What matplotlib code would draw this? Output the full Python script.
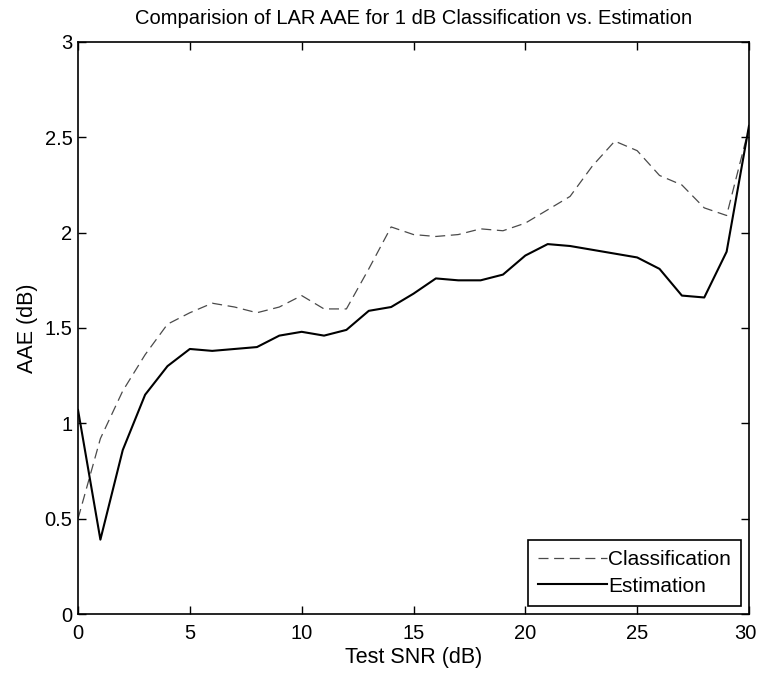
import numpy as np
import matplotlib
matplotlib.use('Agg')
import matplotlib.pyplot as plt
import matplotlib.transforms as mtransforms

plt.rcParams['font.family'] = ['Liberation Sans', 'DejaVu Sans']

# Test SNR (dB)
snr = list(range(0, 31))

# LAR AAE (dB)
classification = [0.50, 0.92, 1.17, 1.36, 1.52, 1.58, 1.63, 1.61, 1.58, 1.61,
                  1.67, 1.60, 1.60, 1.81, 2.03, 1.99, 1.98, 1.99, 2.02, 2.01,
                  2.05, 2.12, 2.19, 2.35, 2.48, 2.43, 2.30, 2.25, 2.13, 2.09,
                  2.55]
estimation = [1.07, 0.39, 0.86, 1.15, 1.30, 1.39, 1.38, 1.39, 1.40, 1.46,
              1.48, 1.46, 1.49, 1.59, 1.61, 1.68, 1.76, 1.75, 1.75, 1.78,
              1.88, 1.94, 1.93, 1.91, 1.89, 1.87, 1.81, 1.67, 1.66, 1.90,
              2.56]

x_ticks = [0, 5, 10, 15, 20, 25, 30]
y_ticks = [0, 0.5, 1, 1.5, 2, 2.5, 3]

fig = plt.figure(figsize=(7.59, 6.76), dpi=100)
ax = fig.add_axes([0.1028, 0.0917, 0.884, 0.8462])

ax.plot(snr, classification, color='#4a4a4a', linewidth=0.9, dashes=(8, 4.5),
        label='Classification')
ax.plot(snr, estimation, color='black', linewidth=1.5, label='Estimation')

ax.set_xlim(0, 30)
ax.set_ylim(0, 3)
ax.set_xticks(x_ticks)
ax.set_yticks(y_ticks)
ax.set_yticklabels(['0', '0.5', '1', '1.5', '2', '2.5', '3'])
ax.tick_params(direction='in', top=True, right=True, length=6, width=1,
               labelsize=14.5)
ax.tick_params(axis='x', pad=7)
ax.tick_params(axis='y', pad=4)
for s in ax.spines.values():
    s.set_linewidth(1.2)

# nudge the last x label so "30" stays inside the figure
last = ax.get_xticklabels()[-1]
last.set_transform(last.get_transform() +
                   mtransforms.ScaledTranslation(-4 / 100, 0, fig.dpi_scale_trans))

ax.set_title('Comparision of LAR AAE for 1 dB Classification vs. Estimation',
             fontsize=14.5, pad=13)
ax.set_xlabel('Test SNR (dB)', fontsize=15.5, labelpad=3)
ax.set_ylabel('AAE (dB)', fontsize=15.5, labelpad=5)

leg = ax.legend(loc='lower right', fontsize=15, handlelength=3.3,
                handletextpad=0.05, borderaxespad=0.38, fancybox=False,
                framealpha=1, edgecolor='black', borderpad=0.5,
                labelspacing=0.35)
leg.get_frame().set_linewidth(1.2)

fig.savefig('out.png', dpi=100)
